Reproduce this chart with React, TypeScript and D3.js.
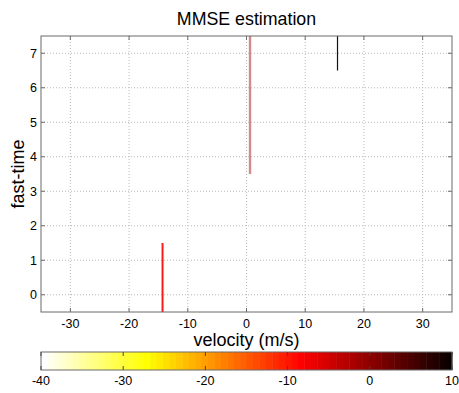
import React from "react";
import * as d3 from "d3";

// vertical line segments: velocity (m/s), fast-time start/end, colour, width
const segVelocity = [-14.3, 0.6, 15.5];
const segFrom = [-0.5, 3.5, 6.5];
const segTo = [1.5, 7.5, 7.5];
const segColor = ["#ff1a1a", "#d48a8c", "#111111"];
const segWidth = [2, 2.4, 1.2];

const xTicks = [-30, -20, -10, 0, 10, 20, 30];
const yTicks = [0, 1, 2, 3, 4, 5, 6, 7];
const cbTicks = [-40, -30, -20, -10, 0, 10];

const W = 459;
const H = 393;
const margin = { left: 41, right: 7, top: 36, bottom: 81 };
const font = "'Liberation Sans', Arial, Helvetica, sans-serif";

// MATLAB "hot" colormap, 64 levels, flipped
const hotLevels = 64;
function hot(i: number) {
  const n = Math.floor((3 / 8) * hotLevels);
  const k = i + 1;
  const r = k <= n ? k / n : 1;
  const g = k <= n ? 0 : k <= 2 * n ? (k - n) / n : 1;
  const b = k <= 2 * n ? 0 : (k - 2 * n) / (hotLevels - 2 * n);
  return d3.rgb(r * 255, g * 255, b * 255).toString();
}

export default function App() {
  const innerW = W - margin.left - margin.right;
  const innerH = H - margin.top - margin.bottom;
  const x = d3.scaleLinear().domain([-35, 35]).range([margin.left, margin.left + innerW]);
  const y = d3.scaleLinear().domain([-0.5, 7.5]).range([margin.top + innerH, margin.top]);

  const cbTop = 352;
  const cbH = 18;
  const cb = d3.scaleLinear().domain([-40, 10]).range([margin.left, margin.left + innerW]);
  const cells = d3.range(hotLevels);
  const cellW = (cb(10) - cb(-40)) / hotLevels;

  const axisColor = "#6b6b6b";
  const gridColor = "#b8b8b8";

  return (
    <svg width={W} height={H} style={{ position: "absolute", left: 0, top: 0 }}>
      <rect width={W} height={H} fill="#fff" />
      <text x={x(0)} y={25} textAnchor="middle" fontFamily={font} fontSize={17.8} fill="#000">
        MMSE estimation
      </text>

      {/* grid */}
      {xTicks.map((t) => (
        <line key={"gx" + t} x1={x(t)} x2={x(t)} y1={margin.top} y2={margin.top + innerH}
          stroke={gridColor} strokeWidth={1} strokeDasharray="1,2" />
      ))}
      {yTicks.map((t) => (
        <line key={"gy" + t} x1={margin.left} x2={margin.left + innerW} y1={y(t)} y2={y(t)}
          stroke={gridColor} strokeWidth={1} strokeDasharray="1,2" />
      ))}

      {/* segments */}
      {segVelocity.map((v, i) => (
        <line key={"s" + i} x1={x(v)} x2={x(v)} y1={y(segFrom[i])} y2={y(segTo[i])}
          stroke={segColor[i]} strokeWidth={segWidth[i]} />
      ))}

      {/* box + ticks */}
      <rect x={margin.left} y={margin.top} width={innerW} height={innerH} fill="none"
        stroke={axisColor} strokeWidth={1} />
      {xTicks.map((t) => (
        <g key={"tx" + t}>
          <line x1={x(t)} x2={x(t)} y1={margin.top + innerH} y2={margin.top + innerH - 4} stroke={axisColor} />
          <line x1={x(t)} x2={x(t)} y1={margin.top} y2={margin.top + 4} stroke={axisColor} />
          <text x={x(t)} y={margin.top + innerH + 15.5} textAnchor="middle" fontFamily={font} fontSize={12.5}>
            {t}
          </text>
        </g>
      ))}
      {yTicks.map((t) => (
        <g key={"ty" + t}>
          <line x1={margin.left} x2={margin.left + 4} y1={y(t)} y2={y(t)} stroke={axisColor} />
          <line x1={margin.left + innerW} x2={margin.left + innerW - 4} y1={y(t)} y2={y(t)} stroke={axisColor} />
          <text x={margin.left - 4} y={y(t) + 4.5} textAnchor="end" fontFamily={font} fontSize={12.5}>
            {t}
          </text>
        </g>
      ))}

      <text x={x(0)} y={346} textAnchor="middle" fontFamily={font} fontSize={18}>
        velocity (m/s)
      </text>
      <text transform={`translate(24,${y(3.5)}) rotate(-90)`} textAnchor="middle" fontFamily={font} fontSize={18}>
        fast-time
      </text>

      {/* colorbar */}
      {cells.map((i) => (
        <rect key={"c" + i} x={cb(-40) + i * cellW} y={cbTop} width={cellW + 0.5} height={cbH}
          fill={hot(hotLevels - 1 - i)} />
      ))}
      <rect x={cb(-40)} y={cbTop} width={cb(10) - cb(-40)} height={cbH} fill="none" stroke={axisColor} />
      {cbTicks.map((t) => (
        <g key={"cb" + t}>
          <line x1={cb(t)} x2={cb(t)} y1={cbTop} y2={cbTop + 4} stroke="#444" />
          <line x1={cb(t)} x2={cb(t)} y1={cbTop + cbH} y2={cbTop + cbH - 4} stroke="#444" />
          <text x={cb(t)} y={384.5} textAnchor="middle" fontFamily={font} fontSize={12.5}>
            {t}
          </text>
        </g>
      ))}
    </svg>
  );
}
